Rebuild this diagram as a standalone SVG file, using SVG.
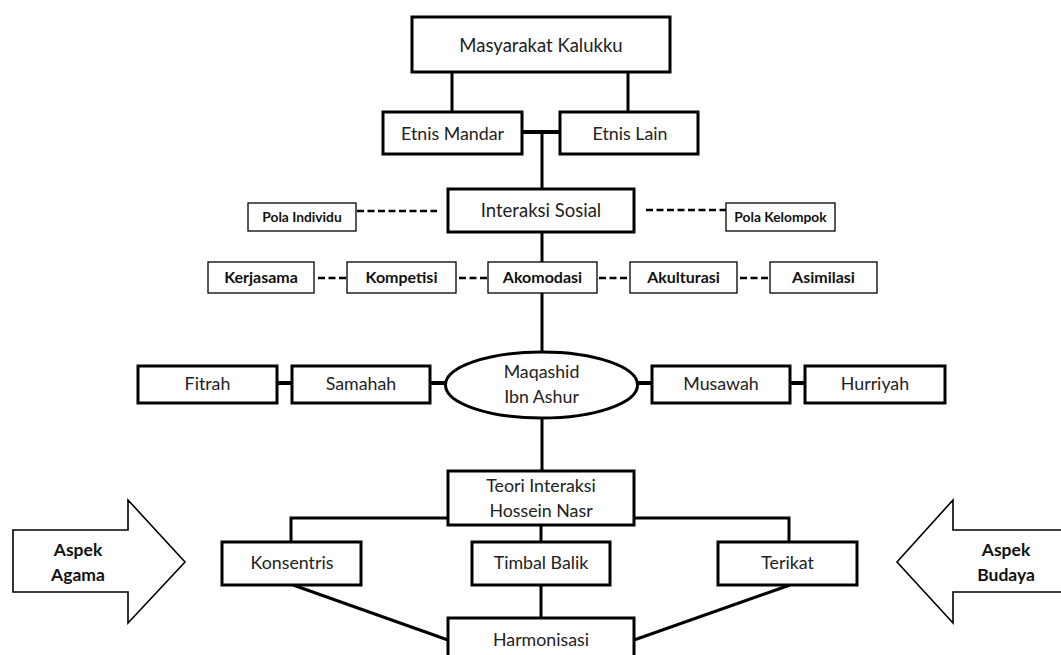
<svg xmlns="http://www.w3.org/2000/svg" width="1061" height="655" viewBox="0 0 1061 655">
<style>
.bx{fill:#fff;stroke:#000;stroke-width:3}
.tb{fill:#fff;stroke:#000;stroke-width:1.3}
.t{font-family:Lato,"Liberation Sans",sans-serif;font-size:17.8px;fill:#222;text-anchor:middle}
.b{font-family:Lato,"Liberation Sans",sans-serif;font-size:16px;font-weight:bold;fill:#111;text-anchor:middle}
.bs{font-family:Lato,"Liberation Sans",sans-serif;font-size:13.8px;font-weight:bold;fill:#111;text-anchor:middle}
.ba{font-family:Lato,"Liberation Sans",sans-serif;font-size:17.5px;font-weight:bold;fill:#111;text-anchor:middle}
.ln{stroke:#000;stroke-width:3;fill:none}
.lt{stroke:#000;stroke-width:4;fill:none}
.ds{stroke:#000;stroke-width:2.6;fill:none;stroke-dasharray:7 3.5}
.ar{fill:#fff;stroke:#000;stroke-width:1.6}
</style>
<g id="connectors">
<line class="ln" x1="452" y1="72" x2="452" y2="112"/>
<line class="ln" x1="628" y1="72" x2="628" y2="112"/>
<line class="lt" x1="522" y1="132" x2="560" y2="132"/>
<line class="ln" x1="542" y1="132" x2="542" y2="189"/>
<line class="ds" x1="357" y1="211" x2="437" y2="211"/>
<line class="ds" x1="646" y1="210" x2="726" y2="210"/>
<line class="ln" x1="542" y1="232" x2="542" y2="262"/>
<line class="ds" x1="318" y1="278" x2="347" y2="278"/>
<line class="ds" x1="459" y1="278" x2="488" y2="278"/>
<line class="ds" x1="599" y1="278" x2="630" y2="278"/>
<line class="ds" x1="740" y1="278" x2="770" y2="278"/>
<line class="ln" x1="542" y1="293" x2="542" y2="352"/>
<line class="lt" x1="277" y1="383" x2="292" y2="383"/>
<line class="lt" x1="430" y1="383" x2="446" y2="383"/>
<line class="lt" x1="637" y1="383" x2="652" y2="383"/>
<line class="lt" x1="790" y1="383" x2="805" y2="383"/>
<line class="ln" x1="542" y1="418" x2="542" y2="471"/>
<polyline class="ln" points="448,518 291,518 291,542"/>
<polyline class="ln" points="634,518 789,518 789,542"/>
<line class="ln" x1="541" y1="525" x2="541" y2="542"/>
<line class="ln" x1="541" y1="585" x2="541" y2="618"/>
<line class="ln" x1="293" y1="585" x2="448" y2="640"/>
<line class="ln" x1="790" y1="585" x2="634" y2="640"/>
</g>
<g id="masyarakat"><rect class="bx" x="412" y="17" width="258" height="55"/><text class="t" x="541" y="52" style="font-size:18.5px">Masyarakat Kalukku</text></g>
<g id="etnis-mandar"><rect class="bx" x="383" y="112" width="139" height="42"/><text class="t" x="452.5" y="140">Etnis Mandar</text></g>
<g id="etnis-lain"><rect class="bx" x="560" y="112" width="138" height="42"/><text class="t" x="630" y="140">Etnis Lain</text></g>
<g id="interaksi-sosial"><rect class="bx" x="448" y="189" width="186" height="43"/><text class="t" x="541" y="217" style="font-size:18.5px">Interaksi Sosial</text></g>
<g id="pola-individu"><rect class="tb" x="248" y="203" width="108" height="28"/><text class="bs" x="302" y="222">Pola Individu</text></g>
<g id="pola-kelompok"><rect class="tb" x="726" y="203" width="109" height="28"/><text class="bs" x="780.5" y="222">Pola Kelompok</text></g>
<g id="kerjasama"><rect class="tb" x="208" y="262" width="106" height="31"/><text class="b" x="261" y="283">Kerjasama</text></g>
<g id="kompetisi"><rect class="tb" x="347" y="262" width="109" height="31"/><text class="b" x="401.5" y="283">Kompetisi</text></g>
<g id="akomodasi"><rect class="tb" x="488" y="262" width="109" height="31"/><text class="b" x="542.5" y="283">Akomodasi</text></g>
<g id="akulturasi"><rect class="tb" x="630" y="262" width="107" height="31"/><text class="b" x="683.5" y="283">Akulturasi</text></g>
<g id="asimilasi"><rect class="tb" x="770" y="262" width="107" height="31"/><text class="b" x="823.5" y="283">Asimilasi</text></g>
<g id="fitrah"><rect class="bx" x="138" y="366" width="139" height="37"/><text class="t" x="207.5" y="390">Fitrah</text></g>
<g id="samahah"><rect class="bx" x="292" y="366" width="138" height="37"/><text class="t" x="361" y="390">Samahah</text></g>
<g id="maqashid"><ellipse class="bx" cx="541.5" cy="385" rx="96" ry="33"/><text class="t" x="541.5" y="378">Maqashid</text><text class="t" x="541.5" y="403">Ibn Ashur</text></g>
<g id="musawah"><rect class="bx" x="652" y="366" width="138" height="37"/><text class="t" x="721" y="390">Musawah</text></g>
<g id="hurriyah"><rect class="bx" x="805" y="366" width="140" height="37"/><text class="t" x="875" y="390">Hurriyah</text></g>
<g id="teori"><rect class="bx" x="448" y="471" width="186" height="54"/><text class="t" x="541" y="492">Teori Interaksi</text><text class="t" x="541" y="517">Hossein Nasr</text></g>
<g id="konsentris"><rect class="bx" x="222" y="542" width="139" height="43"/><text class="t" x="292" y="569">Konsentris</text></g>
<g id="timbal-balik"><rect class="bx" x="472" y="542" width="138" height="43"/><text class="t" x="541" y="569">Timbal Balik</text></g>
<g id="terikat"><rect class="bx" x="718" y="542" width="139" height="43"/><text class="t" x="787.5" y="569">Terikat</text></g>
<g id="harmonisasi"><rect class="bx" x="448" y="618" width="186" height="45"/><text class="t" x="541" y="646">Harmonisasi</text></g>
<g id="aspek-agama"><polygon class="ar" points="13,530 128,530 128,500 185,562 128,623 128,592 13,592"/><text class="ba" x="78" y="556">Aspek</text><text class="ba" x="78" y="581">Agama</text></g>
<g id="aspek-budaya"><polygon class="ar" points="1066,530 953,530 953,500 897,562 953,623 953,592 1066,592"/><text class="ba" x="1006" y="556">Aspek</text><text class="ba" x="1006" y="581">Budaya</text></g>
</svg>
